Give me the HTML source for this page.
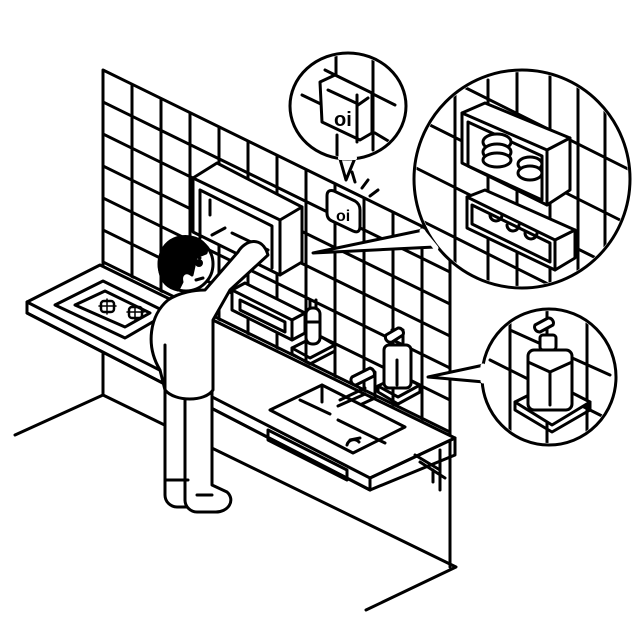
<!DOCTYPE html>
<html><head><meta charset="utf-8"><style>html,body{margin:0;padding:0;background:#fff}svg{display:block}</style></head>
<body>
<svg width="640" height="640" viewBox="0 0 640 640" xmlns="http://www.w3.org/2000/svg" fill="none" stroke="#000" stroke-width="3" stroke-linecap="round" stroke-linejoin="round">
<defs>
<clipPath id="wall"><polygon points="103,70 450,240 450,434 103,264"/></clipPath>
<clipPath id="bb"><ellipse cx="522" cy="179" rx="106" ry="107"/></clipPath>
<clipPath id="sb"><ellipse cx="549" cy="377" rx="65" ry="66"/></clipPath>
<clipPath id="tb"><ellipse cx="348" cy="106" rx="56" ry="51"/></clipPath>
</defs>

<g clip-path="url(#wall)">
<path d="M103,60V440M132,60V440M161,60V440M190,60V440M219,60V440M248,60V440M277,60V440M306,60V440M335,60V440M364,60V440M393,60V440M422,60V440M450,60V440"/>
<path d="M103,102L450,272M103,134L450,304M103,166L450,336M103,198L450,368M103,230L450,400M103,262L450,432"/>
</g>
<polyline points="103,395 103,70 450,240 450,567"/>

<path d="M15,435L103,395L456,567L366,610"/>
<path d="M103,345V395"/>

<polygon points="193,178 217,163 302,207 302,262 280,275 193,232" fill="#fff"/>
<path d="M193,178L280,220L302,207M280,220V275"/>
<path d="M200,190L272,226V268M200,190V238"/>
<path d="M210,200V215M212,235L225,228M232,233L268,250"/>

<polygon points="232,290 245,283 305,313 305,333 292,340 232,310" fill="#fff"/>
<path d="M232,290L292,320L305,313M292,320V340"/>
<path d="M240,300L285,322V332L240,310Z"/>

<polygon points="27,302 100,265 455,438 370,478 370,490 27,313" fill="#fff"/>
<path d="M27,302L370,478L455,438M370,478V490M27,313L370,490"/>
<path d="M455,438V455L370,490"/>
<polygon points="55,305 103,281 168,313 125,338" />
<polygon points="75,305 105,291 150,313 125,327"/>
<g stroke-width="2.5"><rect x="101" y="301" width="13" height="11" rx="3"/><rect x="129" y="307" width="13" height="11" rx="3"/>
<path d="M107,299V314M99,306H116M135,305V320M127,312H144" stroke-width="1.5"/></g>

<polygon points="270,410 322,385 405,427 353,453"/>
<path d="M322,385V402M300,400L330,414M338,420L385,443M350,440L360,438"/>
<path d="M347,445a7,7 0 0 1 12,-3"/>
<path d="M268,430L347,470V480L268,440Z"/>
<path d="M415,455L440,470M420,462L445,478M440,450V490M433,470V482"/>

<path d="M340,400L365,388M338,406L365,394M355,380L375,372V398L362,404" />
<path d="M352,377L370,368a6,6 0 0 1 4,8L356,385a5,5 0 0 1 -4,-8Z" fill="#fff"/>

<polygon points="378,386 400,375 420,385 398,397" />
<path d="M378,386V392L398,404L420,392V385"/>
<rect x="384" y="345" width="27" height="43" rx="5" fill="#fff"/>
<path d="M397,360V385M392,330V345M403,330V345"/>
<path d="M386,335L398,328a5,5 0 0 1 5,7L392,342a5,5 0 0 1 -6,-7Z" fill="#fff"/>

<polygon points="292,348 318,335 335,345 310,358"/>
<path d="M292,348V354L310,364L335,351V345"/>
<rect x="306" y="308" width="14" height="36" rx="6" fill="#fff"/>
<path d="M306,322H320M310,300V308M316,300V308"/>

<path d="M327,196Q327,189 334,191L355,201Q360,204 360,210V226Q360,234 353,231L332,221Q327,219 327,213Z" fill="#fff"/>
<text x="336" y="221" font-family="Liberation Sans, sans-serif" font-size="16" font-weight="bold" fill="#000" stroke="none">oi</text>
<path d="M352,172L355,182M368,180L362,188M378,190L370,196"/>

<path d="M340,159L346,180L355,158" fill="#fff"/>
<ellipse cx="348" cy="106" rx="58" ry="53" fill="#fff"/>
<path d="M340,158L355,158" stroke="#fff" stroke-width="4"/>
<g clip-path="url(#tb)">
<path d="M336,55V90M373,55V150M337,135V160M302,95L325,106M325,70L395,105M375,133L395,145"/>
</g>
<polygon points="320,82 335,75 372,93 372,133 360,140 322,122" fill="#fff"/>
<path d="M328,90L356,103M358,105L368,98M357,142V95"/>
<text x="334" y="126" font-family="Liberation Sans, sans-serif" font-size="20" font-weight="bold" fill="#000" stroke="none">oi</text>

<path d="M423,230L313,253L435,247" fill="#fff"/>
<ellipse cx="522" cy="179" rx="108" ry="109" fill="#fff"/>
<path d="M422,231L436,248" stroke="#fff" stroke-width="5"/>
<g clip-path="url(#bb)">
<path d="M455,80V300M488,80V300M517,70V300M550,70V300M578,70V300M605,70V300"/>
<path d="M400,110L640,230M400,160L640,280M400,210L640,330M400,260L640,380M450,80L640,175"/>
</g>
<polygon points="462,113 485,103 570,138 570,190 547,205 462,163" fill="#fff"/>
<path d="M462,113L547,150L570,138M547,150V205M468,122L542,156V200L468,166Z"/>
<ellipse cx="497" cy="142" rx="14" ry="8" fill="#fff"/><ellipse cx="497" cy="152" rx="14" ry="8" fill="#fff"/><ellipse cx="497" cy="160" rx="14" ry="7" fill="#fff"/>
<ellipse cx="530" cy="164" rx="12" ry="7" fill="#fff"/><ellipse cx="530" cy="173" rx="12" ry="7" fill="#fff"/>
<polygon points="467,197 485,190 575,230 575,258 555,270 467,228" fill="#fff"/>
<path d="M467,197L555,240L575,230M555,240V270M472,205L550,243V262L472,224Z"/>
<path d="M490,215a6,6 0 0 0 12,0M507,225a6,6 0 0 0 12,0M525,233a6,6 0 0 0 12,0"/>

<path d="M484,365L428,377L484,382" fill="#fff"/>
<ellipse cx="549" cy="377" rx="67" ry="68" fill="#fff"/>
<path d="M483,366L483,381" stroke="#fff" stroke-width="5"/>
<g clip-path="url(#sb)">
<path d="M510,300V450M547,300V450M587,300V450M490,360L610,420M510,330L610,375"/>
</g>
<polygon points="515,402 553,383 590,402 552,425" fill="#fff"/>
<path d="M515,402V410L552,432L590,410V402"/>
<rect x="528" y="350" width="44" height="60" rx="6" fill="#fff"/>
<path d="M528,362L550,372L572,362M550,372V405"/>
<rect x="540" y="335" width="16" height="15" rx="3" fill="#fff"/>
<path d="M535,325L548,318a5,5 0 0 1 5,7L540,332a5,5 0 0 1 -5,-7Z" fill="#fff"/>

<path d="M165,385V495a12,12 0 0 0 12,12H188V385Z" fill="#fff"/>
<path d="M185,385V500a12,12 0 0 0 12,12H215a15,12 0 0 0 12,-20L212,485V385Z" fill="#fff"/>
<path d="M185,425V500M165,480H188M197,495H212"/>
<path d="M168,300C150,315 145,345 160,370L165,390C175,402 205,402 213,390V320L230,290L268,255C262,235 245,240 238,252L205,290C195,290 180,292 168,300Z" fill="#fff"/>
<path d="M165,345V390"/>
<circle cx="186" cy="264" r="27" fill="#fff"/>
<path d="M160,272C155,245 175,232 195,238C204,241 208,248 206,253L196,257L192,275C186,270 180,274 182,282L178,290C168,288 162,282 160,272Z" fill="#000"/>
<circle cx="199" cy="263" r="2.5" fill="#000"/>
<path d="M196,280L203,278M194,256L200,258"/>
</svg>
</body></html>
